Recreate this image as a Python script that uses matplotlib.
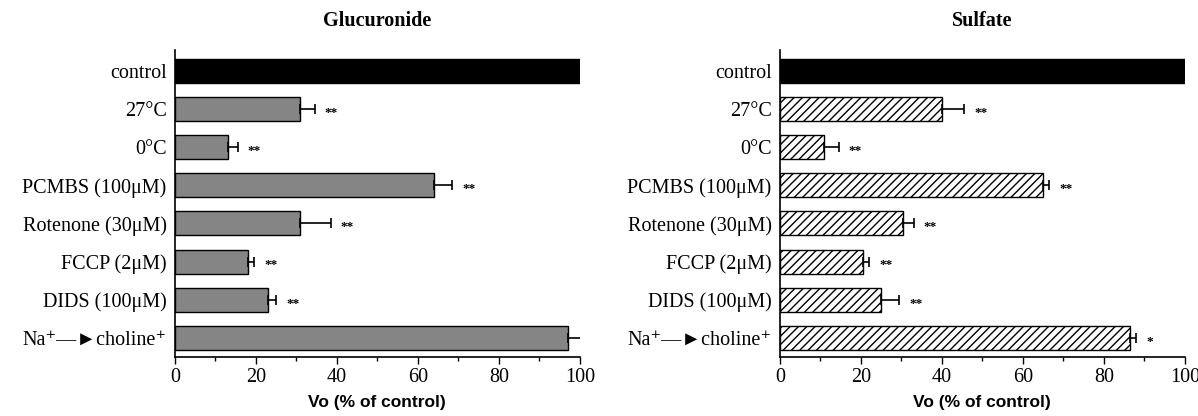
import matplotlib.pyplot as plt
import numpy as np
from matplotlib.ticker import MultipleLocator

plt.rcParams['font.family'] = ['Liberation Serif', 'DejaVu Serif']
plt.rcParams['hatch.linewidth'] = 1.0

labels = ['control', '27°C', '0°C', 'PCMBS (100μM)', 'Rotenone (30μM)',
          'FCCP (2μM)', 'DIDS (100μM)', 'Na⁺—►choline⁺']

gluc_vals = [100, 31, 13, 64, 31, 18, 23, 97]
gluc_err = [0, 3.5, 2.5, 4.5, 7.5, 1.5, 2, 5]
gluc_sig = ['', '**', '**', '**', '**', '**', '**', '']

sulf_vals = [100, 40, 11, 65, 30.5, 20.5, 25, 86.5]
sulf_err = [0, 5.5, 3.5, 1.5, 2.5, 1.5, 4.5, 1.5]
sulf_sig = ['', '**', '**', '**', '**', '**', '**', '*']

fig = plt.figure(figsize=(11.98, 4.16), dpi=100)
ax1 = fig.add_axes([0.146, 0.142, 0.338, 0.738])
ax2 = fig.add_axes([0.651, 0.142, 0.338, 0.738])

y = np.arange(len(labels))


def draw(ax, vals, err, sig, title, hatched):
    for i, (v, e) in enumerate(zip(vals, err)):
        if i == 0:
            ax.barh(i, v, height=0.63, color='black', edgecolor='black', linewidth=1)
        elif hatched:
            ax.barh(i, v, height=0.63, color='white', edgecolor='black',
                    hatch='////', linewidth=1)
        else:
            ax.barh(i, v, height=0.63, color='#858585', edgecolor='black', linewidth=1)
        if e > 0:
            ax.errorbar(v, i, xerr=[[0], [e]], fmt='none', ecolor='black',
                        elinewidth=1.2, capsize=3.5, capthick=1.2)
        if sig[i]:
            ax.text(v + e + 2.5, i + 0.1, sig[i], ha='left', va='center',
                    fontsize=9.5, fontweight='bold')
    ax.set_yticks(y)
    ax.set_yticklabels(labels)
    ax.set_ylim(7.5, -0.55)
    ax.set_xlim(0, 100)
    ax.xaxis.set_major_locator(MultipleLocator(20))
    ax.xaxis.set_minor_locator(MultipleLocator(10))
    ax.tick_params(axis='y', length=0, pad=6, labelsize=14.5)
    ax.tick_params(axis='x', which='major', length=5, width=1, labelsize=14.5, pad=3)
    ax.tick_params(axis='x', which='minor', length=3, width=1)
    for s in ['top', 'right']:
        ax.spines[s].set_visible(False)
    for s in ['left', 'bottom']:
        ax.spines[s].set_linewidth(1.2)
    ax.set_xlabel('Vo (% of control)', family='Liberation Sans', fontweight='bold',
                  fontsize=12.5, labelpad=6)
    ax.set_title(title, fontsize=14.5, fontweight='bold', pad=17)


draw(ax1, gluc_vals, gluc_err, gluc_sig, 'Glucuronide', False)
draw(ax2, sulf_vals, sulf_err, sulf_sig, 'Sulfate', True)

fig.savefig('out.png', dpi=100)
